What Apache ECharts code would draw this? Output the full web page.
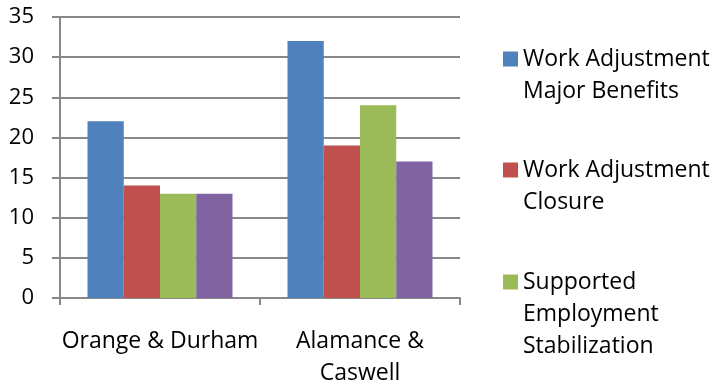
<!DOCTYPE html>
<html>
<head>
<meta charset="utf-8">
<script src="https://cdn.jsdelivr.net/npm/echarts@6/dist/echarts.min.js"></script>
<style>
  html, body { margin: 0; padding: 0; background: #fff; }
  #chart { width: 717px; height: 385px; }
</style>
</head>
<body>
<div id="chart"></div>
<script>
  // 数据
  var categories = ['Orange & Durham', 'Alamance & Caswell']
  var seriesNames = [
    'Work Adjustment Major Benefits',
    'Work Adjustment Closure',
    'Supported Employment Stabilization',
    'Supported Employment Closure'
  ]
  var legendLines = [
    'Work Adjustment\nMajor Benefits',
    'Work Adjustment\nClosure',
    'Supported\nEmployment\nStabilization'
  ]
  var majorBenefits = [22, 32]
  var closure = [14, 19]
  var stabilization = [13, 24]
  var seClosure = [13, 17]
  var yTicks = [0, 5, 10, 15, 20, 25, 30, 35]

  var colors = ['#4F81BD', '#C0504D', '#9BBB59', '#8064A2']
  var font = 'Open Sans'
  var fz = 22
  var fzText = 23
  var lineH = 32

  var myChart = echarts.init(document.getElementById('chart'))

  // 每个图例单独一个 legend，前面补空行让图标对齐第一行
  var legendTops = [59, 170, 282]
  var legends = legendLines.map(function(txt, i) {
    var n = txt.split('\n').length
    var pad = new Array(n).join('\n')
    var total = 2 * n - 1
    return {
      left: 503,
      top: legendTops[i] - total * lineH / 2,
      orient: 'vertical',
      padding: 0,
      itemWidth: 15,
      itemHeight: 15,
      itemGap: 0,
      icon: 'rect',
      formatter: function() { return pad + txt },
      textStyle: {
        fontFamily: font,
        fontSize: fzText,
        color: '#000',
        lineHeight: lineH
      },
      data: [seriesNames[i]]
    }
  })

  var allData = [majorBenefits, closure, stabilization, seClosure]

  var option = {
    animation: false,
    color: colors,
    grid: {
      left: 60,
      right: 257,
      top: 17,
      bottom: 87,
      outerBoundsMode: 'none'
    },
    legend: legends,
    xAxis: {
      type: 'category',
      data: categories,
      axisLine: { lineStyle: { color: '#888', width: 2 } },
      axisTick: { show: true, length: 7, lineStyle: { color: '#888', width: 2 } },
      axisLabel: {
        interval: 0,
        margin: 27,
        fontFamily: font,
        fontSize: fzText,
        color: '#000',
        lineHeight: lineH,
        formatter: function(v) {
          return v.length > 15 ? v.replace('& ', '&\n') : v
        }
      }
    },
    yAxis: {
      type: 'value',
      min: yTicks[0],
      max: yTicks[yTicks.length - 1],
      interval: 5,
      axisLine: { show: true, lineStyle: { color: '#888', width: 2 } },
      axisTick: { show: true, length: 8, lineStyle: { color: '#888', width: 2 } },
      splitLine: { lineStyle: { color: '#888', width: 2 } },
      axisLabel: {
        margin: 26,
        fontFamily: font,
        fontSize: fz,
        color: '#000'
      }
    },
    series: allData.map(function(d, i) {
      return {
        name: seriesNames[i],
        type: 'bar',
        data: d,
        barGap: '0%',
        barCategoryGap: '27.5%',
        itemStyle: { color: colors[i] }
      }
    })
  }

  myChart.setOption(option)
</script>
</body>
</html>
